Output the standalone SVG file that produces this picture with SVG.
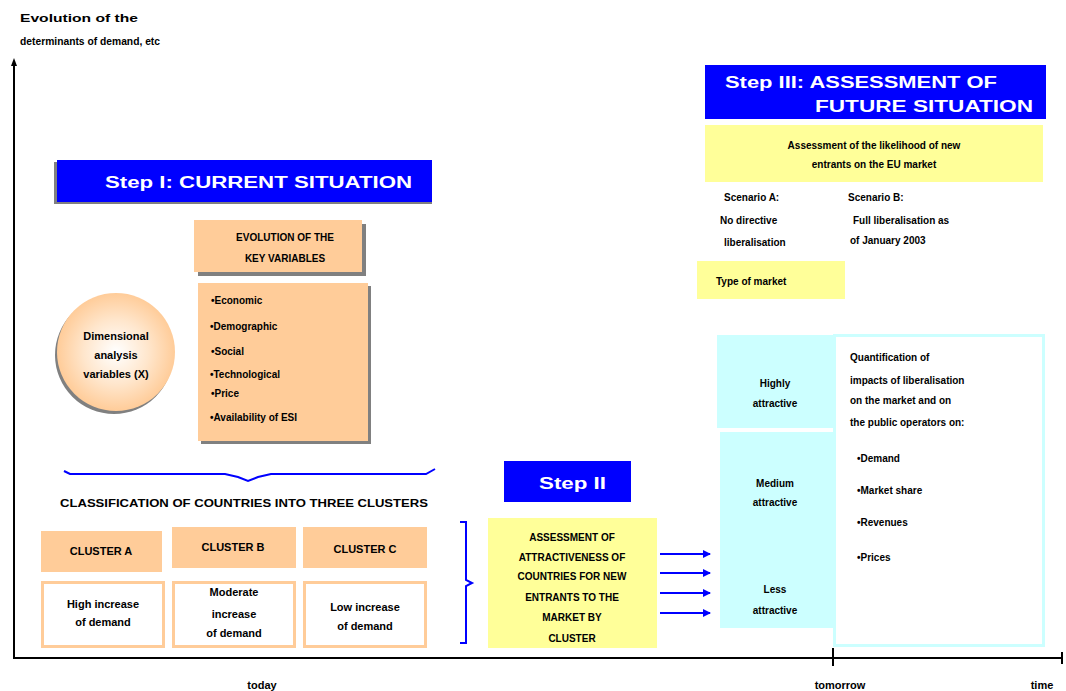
<svg xmlns="http://www.w3.org/2000/svg" width="1066" height="691" viewBox="0 0 1066 691">
<defs>
<radialGradient id="ball" cx="0.5" cy="0.5" r="0.5">
<stop offset="0" stop-color="#FFFFFF"/>
<stop offset="0.55" stop-color="#FFE6CC"/>
<stop offset="1" stop-color="#FFCC99"/>
</radialGradient>
<marker id="arr" markerWidth="8" markerHeight="8" refX="7" refY="4" orient="auto" markerUnits="userSpaceOnUse">
<path d="M0,0 L8,4 L0,8 Z" fill="#0000FF"/>
</marker>
</defs>
<style>
text{font-family:"Liberation Sans",Arial,sans-serif;font-weight:bold;fill:#000}
.t{font-size:11px}
.s{font-size:10px}
.c{text-anchor:middle}
.title{font-size:16px;fill:#fff}
.blue{fill:#0000FF}
.orange{fill:#FFCC99}
.shadow{fill:#808080}
.yellow{fill:#FFFF99}
.cyan{fill:#CCFFFF}
.wbox{fill:#fff;stroke:#FFCC99;stroke-width:3}
.conn{stroke:#0000FF;stroke-width:2;fill:none}
.axis{stroke:#000;stroke-width:2;fill:none}
</style>

<g id="axes">
<line class="axis" x1="14" y1="62" x2="14" y2="658"/>
<path d="M14,58 L17,66 L11,66 Z" fill="#000"/>
<line class="axis" x1="13" y1="658" x2="1062" y2="658"/>
<line class="axis" x1="833" y1="648" x2="833" y2="666"/>
<line class="axis" x1="1062" y1="652" x2="1062" y2="664"/>
<text class="t" x="20" y="22" textLength="118" lengthAdjust="spacingAndGlyphs">Evolution of the</text>
<text class="t" x="20" y="45" textLength="140" lengthAdjust="spacingAndGlyphs">determinants of demand, etc</text>
<text class="t c" x="262" y="689">today</text>
<text class="t c" x="840" y="689">tomorrow</text>
<text class="t c" x="1042" y="689">time</text>
</g>

<g id="step1">
<rect class="shadow" x="54" y="162" width="378" height="42"/>
<rect class="blue" x="57" y="160" width="375" height="42"/>
<text class="title" x="105" y="188" textLength="307" lengthAdjust="spacingAndGlyphs">Step I: CURRENT SITUATION</text>
</g>

<g id="keyvars">
<rect class="shadow" x="198" y="224" width="168" height="52"/>
<rect class="orange" x="194" y="220" width="168" height="52"/>
<text class="s c" x="285" y="241">EVOLUTION OF THE</text>
<text class="s c" x="285" y="262">KEY VARIABLES</text>
</g>

<g id="circle">
<circle cx="114" cy="355" r="59" fill="#808080"/>
<circle cx="116" cy="352" r="59" fill="url(#ball)"/>
<text class="t c" x="116" y="340">Dimensional</text>
<text class="t c" x="116" y="359">analysis</text>
<text class="t c" x="116" y="378">variables (X)</text>
</g>

<g id="varlist">
<rect class="shadow" x="201" y="286" width="170" height="158"/>
<rect class="orange" x="198" y="283" width="170" height="158"/>
<text class="s" x="211" y="304">•Economic</text>
<text class="s" x="210" y="330">•Demographic</text>
<text class="s" x="211" y="355">•Social</text>
<text class="s" x="210" y="378">•Technological</text>
<text class="s" x="211" y="397">•Price</text>
<text class="s" x="210" y="421">•Availability of ESI</text>
</g>

<g id="classif">
<path class="conn" d="M64,471 L70,474 L225,474 L238,477 L248,481 L258,477 L271,474 L426,474 L435,469"/>
<text class="s c" x="244" y="507" textLength="368" lengthAdjust="spacingAndGlyphs">CLASSIFICATION OF COUNTRIES INTO THREE CLUSTERS</text>
</g>

<g id="clusterA">
<rect class="orange" x="41" y="531" width="121" height="41"/>
<text class="t c" x="101" y="555">CLUSTER A</text>
<rect class="wbox" x="42.5" y="582.5" width="121" height="64"/>
<text class="t c" x="103" y="608">High increase</text>
<text class="t c" x="103" y="626">of demand</text>
</g>
<g id="clusterB">
<rect class="orange" x="172" y="527" width="124" height="41"/>
<text class="t c" x="233" y="551">CLUSTER B</text>
<rect class="wbox" x="173.5" y="582.5" width="121" height="64"/>
<text class="t c" x="234" y="596">Moderate</text>
<text class="t c" x="234" y="618">increase</text>
<text class="t c" x="234" y="637">of demand</text>
</g>
<g id="clusterC">
<rect class="orange" x="303" y="527" width="124" height="41"/>
<text class="t c" x="365" y="553">CLUSTER C</text>
<rect class="wbox" x="304.5" y="582.5" width="121" height="64"/>
<text class="t c" x="365" y="611">Low increase</text>
<text class="t c" x="365" y="630">of demand</text>
</g>

<g id="step2">
<rect class="blue" x="504" y="461" width="127" height="41"/>
<text class="title" x="539" y="489" textLength="67" lengthAdjust="spacingAndGlyphs">Step II</text>
</g>

<g id="step2box">
<rect class="yellow" x="488" y="518" width="169" height="130"/>
<text class="s c" x="572" y="541">ASSESSMENT OF</text>
<text class="s c" x="572" y="561">ATTRACTIVENESS OF</text>
<text class="s c" x="572" y="580">COUNTRIES FOR NEW</text>
<text class="s c" x="572" y="601">ENTRANTS TO THE</text>
<text class="s c" x="572" y="621">MARKET BY</text>
<text class="s c" x="572" y="642">CLUSTER</text>
</g>

<g id="connectors">
<path class="conn" d="M460,522 L466,522 L466,580 L472,583 L466,586 L466,643 L460,643"/>
<line class="conn" x1="660" y1="554" x2="710" y2="554" marker-end="url(#arr)"/>
<line class="conn" x1="660" y1="573" x2="710" y2="573" marker-end="url(#arr)"/>
<line class="conn" x1="660" y1="593" x2="710" y2="593" marker-end="url(#arr)"/>
<line class="conn" x1="660" y1="613" x2="710" y2="613" marker-end="url(#arr)"/>
</g>

<g id="attract">
<rect class="cyan" x="717" y="335" width="116" height="93"/>
<rect class="cyan" x="720" y="432" width="113" height="196"/>
<text class="s c" x="775" y="387">Highly</text>
<text class="s c" x="775" y="407">attractive</text>
<text class="s c" x="775" y="487">Medium</text>
<text class="s c" x="775" y="506">attractive</text>
<text class="s c" x="775" y="593">Less</text>
<text class="s c" x="775" y="614">attractive</text>
</g>

<g id="impacts">
<rect x="834.5" y="335.5" width="209" height="310" fill="#fff" stroke="#CCFFFF" stroke-width="3"/>
<text class="s" x="850" y="361">Quantification of</text>
<text class="s" x="850" y="384">impacts of liberalisation</text>
<text class="s" x="850" y="404">on the market and on</text>
<text class="s" x="850" y="426">the public operators on:</text>
<text class="s" x="857" y="462">•Demand</text>
<text class="s" x="857" y="494">•Market share</text>
<text class="s" x="857" y="526">•Revenues</text>
<text class="s" x="857" y="561">•Prices</text>
</g>

<g id="step3">
<rect class="blue" x="705" y="65" width="341" height="54"/>
<text class="title" x="725" y="88" textLength="272" lengthAdjust="spacingAndGlyphs">Step III: ASSESSMENT OF</text>
<text class="title" x="815" y="112" textLength="218" lengthAdjust="spacingAndGlyphs">FUTURE SITUATION</text>
</g>

<g id="likelihood">
<rect class="yellow" x="705" y="125" width="338" height="57"/>
<text class="s c" x="874" y="149">Assessment of the likelihood of new</text>
<text class="s c" x="874" y="168">entrants on the EU market</text>
</g>

<g id="scenarioA">
<text class="s" x="724" y="201">Scenario A:</text>
<text class="s" x="720" y="224">No directive</text>
<text class="s" x="724" y="246">liberalisation</text>
</g>
<g id="scenarioB">
<text class="s" x="848" y="201">Scenario B:</text>
<text class="s" x="853" y="224">Full liberalisation as</text>
<text class="s" x="850" y="244">of January 2003</text>
</g>

<g id="market">
<rect class="yellow" x="697" y="261" width="148" height="38"/>
<text class="s" x="716" y="285">Type of market</text>
</g>
</svg>
